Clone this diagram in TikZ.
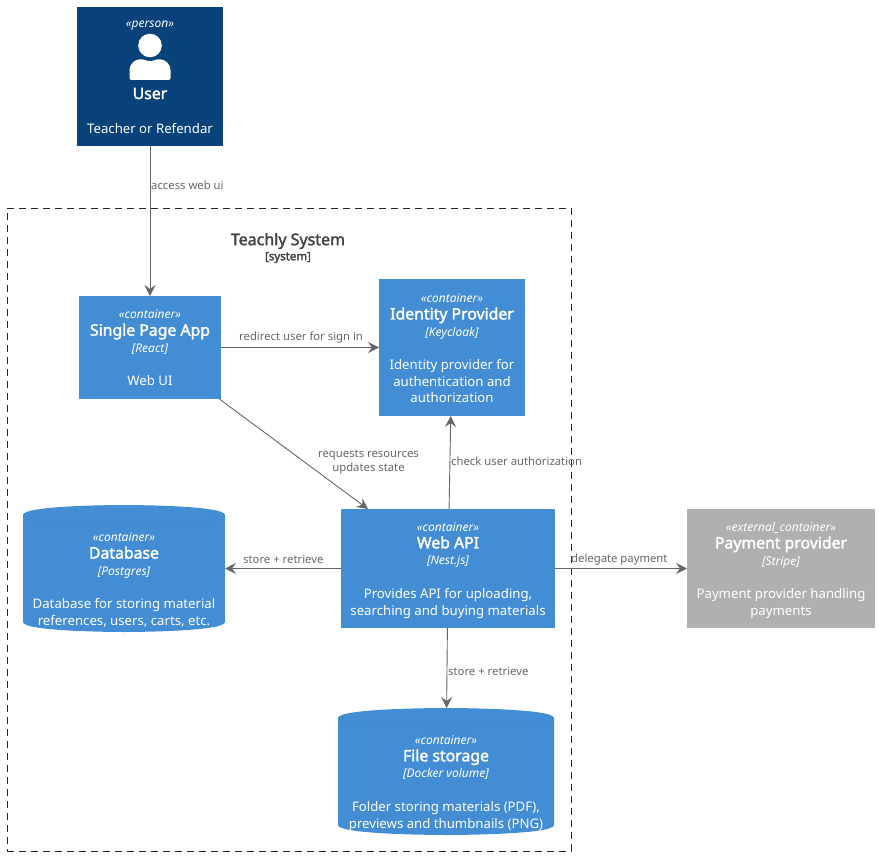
\documentclass[tikz,border=0pt]{standalone}
\usepackage{fontspec}
\setmainfont{Noto Sans}
\newfontfamily\titlefont[FakeBold=2]{Noto Sans}
\newfontfamily\smallbold[FakeBold=3]{Noto Sans}
\usetikzlibrary{arrows.meta,calc}
\pgfdeclarelayer{bg}
\pgfsetlayers{bg,main}
\definecolor{personc}{HTML}{08427B}
\definecolor{contc}{HTML}{438DD5}
\definecolor{contline}{HTML}{3F85CA}
\definecolor{extc}{HTML}{B0B0B0}
\definecolor{linec}{HTML}{666666}
\definecolor{framet}{HTML}{444444}
\newcommand{\stereo}[1]{{\fontsize{12}{16.7}\selectfont\itshape «#1»}}
\newcommand{\ttl}[1]{{\fontsize{15.8}{16.7}\selectfont\titlefont #1}}
\newcommand{\tech}[1]{{\fontsize{12}{16.7}\selectfont\itshape [#1]}}
\newcommand{\cylbody}[1]{%
  \begin{pgfonlayer}{bg}
  \path[fill=contc] ($(#1.north west)+(0,10)$) .. controls ($(#1.north west)$) and ($(#1.north)$) .. (#1.north)
    .. controls ($(#1.north)$) and ($(#1.north east)$) .. ($(#1.north east)+(0,10)$)
    -- ($(#1.south east)+(0,-10)$) .. controls ($(#1.south east)$) and ($(#1.south)$) .. (#1.south)
    .. controls ($(#1.south)$) and ($(#1.south west)$) .. ($(#1.south west)+(0,-10)$) -- cycle;
  \path[draw=contline,line width=.5pt] ($(#1.north west)+(0,10)$) .. controls ($(#1.north west)+(0,20)$) and ($(#1.north)+(0,20)$) .. ($(#1.north)+(0,20)$)
    .. controls ($(#1.north)+(0,20)$) and ($(#1.north east)+(0,20)$) .. ($(#1.north east)+(0,10)$);
  \end{pgfonlayer}}
\tikzset{
  base/.style={inner sep=0pt,outer sep=0pt,align=center,text=white,font=\fontsize{13.2}{16.7}\selectfont},
  personbox/.style={base,fill=personc,minimum width=146pt,minimum height=139pt},
  contbox/.style={base,fill=contc},
  extbox/.style={base,fill=extc},
  cylbox/.style={base,minimum height=127pt},
  rel/.style={draw=linec,line width=.9pt,-{Stealth[length=11pt,width=11pt,inset=4pt]}},
  rlabel/.style={inner sep=0pt,text=linec,font=\fontsize{11.3}{14}\selectfont,align=center},
  frame/.style={draw=black!85,line width=.8pt,dash pattern=on 7pt off 5pt}
}
\begin{document}
\begin{tikzpicture}[x=1pt,y=-1pt]
\useasboundingbox (0,0) rectangle (879,856);
% system boundary
\node[frame,inner sep=0pt,minimum width=564pt,minimum height=643pt] (sys) at (289,529.5) {};
\node[inner sep=0pt,text=framet,font=\fontsize{16}{17}\selectfont\titlefont] (systitle) at (288,241) {Teachly System};
\node[inner sep=0pt,text=framet,font=\fontsize{11.5}{14}\selectfont\smallbold] (systype) at (288,257.5) {[system]};
% person
\node[personbox] (user) at (150,76.5) {};
\node[base] (userst) at (150,26) {\stereo{person}};
\fill[white] (150,45.5) circle (11.8pt);
\fill[white,rounded corners=2pt] (129.5,80) -- (129.5,72)
  .. controls (129.5,64) and (135,59.5) .. (141,59.5)
  .. controls (145,59.5) and (147,61) .. (150,61)
  .. controls (153,61) and (155,59.5) .. (159,59.5)
  .. controls (165,59.5) and (170.5,64) .. (170.5,72) -- (170.5,80) -- cycle;
\node[base] (usert) at (150,93.5) {\ttl{User}};
\node[base] (userd) at (150,128.5) {Teacher or Refendar};
% containers
\node[contbox,minimum width=142pt,minimum height=103pt] (spa) at (150,347.5) {};
\node[base] (spat) at ($(spa)+(0,.5)$)
  {\stereo{container}\\\ttl{Single Page App}\\\tech{React}\\[16.7pt]Web UI};
\node[contbox,minimum width=146pt,minimum height=137pt] (idp) at (452,347.5) {};
\node[base] (idpt) at ($(idp)+(0,1)$)
  {\stereo{container}\\\ttl{Identity Provider}\\\tech{Keycloak}\\[16.7pt]Identity provider for\\authentication and\\authorization};
\node[contbox,minimum width=214pt,minimum height=119pt] (api) at (448,568.5) {};
\node[base] (apit) at ($(api)+(0,2)$)
  {\stereo{container}\\\ttl{Web API}\\\tech{Nest.js}\\[16.7pt]Provides API for uploading,\\searching and buying materials};
\node[extbox,minimum width=188pt,minimum height=119pt] (pay) at (781,568.5) {};
\node[base] (payt) at ($(pay)+(0,2)$)
  {\stereo{external\_container}\\\ttl{Payment provider}\\\tech{Stripe}\\[16.7pt]Payment provider handling\\payments};
\node[cylbox,minimum width=202pt] (db) at (124,568.5) {};
\cylbody{db}
\node[base] (dbt) at ($(db)+(0,11.5)$)
  {\stereo{container}\\\ttl{Database}\\\tech{Postgres}\\[16.7pt]Database for storing material\\references, users, carts, etc.};
\node[cylbox,minimum width=216pt] (fs) at (446,771.5) {};
\cylbody{fs}
\node[base] (fst) at ($(fs)+(0,12)$)
  {\stereo{container}\\\ttl{File storage}\\\tech{Docker volume}\\[16.7pt]Folder storing materials (PDF),\\previews and thumbnails (PNG)};
% relations
\draw[rel] (user) -- (spa);
\draw[rel] (spa) -- (idp);
\draw[rel] (spa) -- (api);
\draw[rel] (api) -- (idp);
\draw[rel] (api) -- (db);
\draw[rel] (api) -- (pay);
\draw[rel] (api) -- (fs);
% labels
\node[rlabel,anchor=west] (l1) at (151,185.5) {access web ui};
\node[rlabel,anchor=west] (l2) at (239,338) {redirect user for sign in};
\node[rlabel] (l3) at (368.5,462) {requests resources\\updates state};
\node[rlabel,anchor=west] (l4) at (451,461.5) {check user authorization};
\node[rlabel,anchor=west] (l5) at (243,559.5) {store + retrieve};
\node[rlabel,anchor=west] (l6) at (571,559.5) {delegate payment};
\node[rlabel,anchor=west] (l7) at (448,671.5) {store + retrieve};
\end{tikzpicture}
\end{document}
